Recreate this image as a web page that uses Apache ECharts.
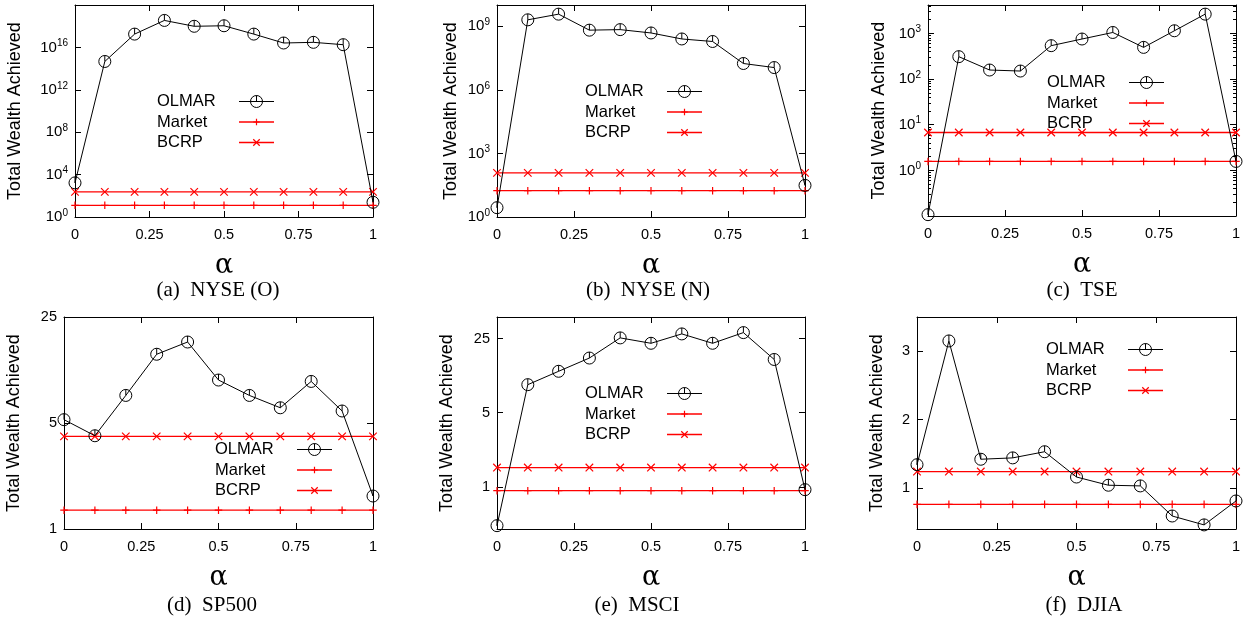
<!DOCTYPE html>
<html>
<head>
<meta charset="UTF-8">
<script src="https://cdn.jsdelivr.net/npm/echarts@6/dist/echarts.min.js"></script>
<title>Total wealth vs alpha</title>
<style>
  html, body { margin: 0; padding: 0; background: #fff; }
  #main { width: 1255px; height: 619px; }
</style>
</head>
<body>
<div id="main"></div>
<script type="text/javascript">
// x values shared by every panel
var alphas = [0, 0.1, 0.2, 0.3, 0.4, 0.5, 0.6, 0.7, 0.8, 0.9, 1];

// (a) NYSE (O)
var olmarA  = [1660, 4.7e14, 1.8e17, 3.5e18, 9.8e17, 1.1e18, 1.8e17, 2.6e16, 3.0e16, 1.8e16, 24.5];
var marketA = [12.7, 12.7, 12.7, 12.7, 12.7, 12.7, 12.7, 12.7, 12.7, 12.7, 12.7];
var bcrpA   = [234, 234, 234, 234, 234, 234, 234, 234, 234, 234, 234];
var ticksA  = [1, 1e4, 1e8, 1e12, 1e16];

// (b) NYSE (N)
var olmarB  = [2.75, 2.0e9, 3.7e9, 6.5e8, 6.9e8, 4.8e8, 2.5e8, 1.9e8, 1.74e7, 1.12e7, 31];
var marketB = [17.5, 17.5, 17.5, 17.5, 17.5, 17.5, 17.5, 17.5, 17.5, 17.5, 17.5];
var bcrpB   = [120, 120, 120, 120, 120, 120, 120, 120, 120, 120, 120];
var ticksB  = [1, 1e3, 1e6, 1e9];

// (c) TSE
var olmarC  = [0.107, 310, 158, 150, 540, 755, 1050, 495, 1145, 2650, 1.57];
var marketC = [1.57, 1.57, 1.57, 1.57, 1.57, 1.57, 1.57, 1.57, 1.57, 1.57, 1.57];
var bcrpC   = [6.76, 6.76, 6.76, 6.76, 6.76, 6.76, 6.76, 6.76, 6.76, 6.76, 6.76];
var ticksC  = [1, 10, 100, 1000];

// (d) SP500
var olmarD  = [5.26, 4.12, 7.6, 14.2, 17.1, 9.6, 7.6, 6.3, 9.4, 6.0, 1.65];
var marketD = [1.33, 1.33, 1.33, 1.33, 1.33, 1.33, 1.33, 1.33, 1.33, 1.33, 1.33];
var bcrpD   = [4.08, 4.08, 4.08, 4.08, 4.08, 4.08, 4.08, 4.08, 4.08, 4.08, 4.08];
var ticksD  = [1, 5, 25];

// (e) MSCI
var olmarE  = [0.43, 9.2, 12.3, 16.4, 25.4, 22.6, 27.7, 22.6, 28.5, 15.9, 0.94];
var marketE = [0.92, 0.92, 0.92, 0.92, 0.92, 0.92, 0.92, 0.92, 0.92, 0.92, 0.92];
var bcrpE   = [1.52, 1.52, 1.52, 1.52, 1.52, 1.52, 1.52, 1.52, 1.52, 1.52, 1.52];
var ticksE  = [1, 5, 25];

// (f) DJIA
var olmarF  = [1.34, 3.15, 1.42, 1.44, 1.53, 1.16, 1.04, 1.03, 0.59, 0.46, 0.81];
var marketF = [0.76, 0.76, 0.76, 0.76, 0.76, 0.76, 0.76, 0.76, 0.76, 0.76, 0.76];
var bcrpF   = [1.24, 1.24, 1.24, 1.24, 1.24, 1.24, 1.24, 1.24, 1.24, 1.24, 1.24];
var ticksF  = [1, 2, 3];

var xTicks = [0, 0.25, 0.5, 0.75, 1];

var SANS  = 'Liberation Sans, Arial, Helvetica, sans-serif';
var SERIF = 'Liberation Serif, Times New Roman, serif';
var RED   = '#ff0000';

var panels = [
  {cap: '(a)  NYSE (O)', o: olmarA, m: marketA, b: bcrpA, ticks: ticksA, type: 'log', min: 1,   max: 1e20, sup: true,
   box: [75, 5, 298, 212],   gap: 51, leg: [157, 93],   capPos: [218, 290]},
  {cap: '(b)  NYSE (N)', o: olmarB, m: marketB, b: bcrpB, ticks: ticksB, type: 'log', min: 1,   max: 1e10, sup: true,
   box: [497, 5, 308, 212],  gap: 37, leg: [585, 83],   capPos: [648, 290]},
  {cap: '(c)  TSE',      o: olmarC, m: marketC, b: bcrpC, ticks: ticksC, type: 'log', min: 0.1, max: 4200, sup: true, minor: true,
   box: [928, 5, 308, 211],  gap: 40, leg: [1047, 74],  capPos: [1082, 290]},
  {cap: '(d)  SP500',    o: olmarD, m: marketD, b: bcrpD, ticks: ticksD, type: 'log', min: 1,   max: 25,
   box: [64, 317, 309, 212], gap: 41, leg: [215, 441],  capPos: [212, 605]},
  {cap: '(e)  MSCI',     o: olmarE, m: marketE, b: bcrpE, ticks: ticksE, type: 'log', min: 0.4, max: 40,
   box: [497, 317, 308, 212], gap: 41, leg: [585, 385], capPos: [637, 605]},
  {cap: '(f)  DJIA',     o: olmarF, m: marketF, b: bcrpF, ticks: ticksF, type: 'value', min: 0.4, max: 3.5,
   box: [917, 317, 319, 212], gap: 31, leg: [1046, 341], capPos: [1084, 605]}
];

// marker paths; the lone M points pad the bounding box so the drawn mark stays small
var circleMark = 'path://M6,0A6,6,0,1,1,6,12A6,6,0,1,1,6,0ZM6,0L6,6';
var plusMark   = 'path://M-2,-2M11,11M4.5,1L4.5,8M1,4.5L8,4.5';
var crossMark  = 'path://M-2,-2M11,11M1,1L8,8M8,1L1,8';

// legend entries with their own icon colours
var legendItems = [
  {name: 'OLMAR',  itemStyle: {color: 'rgba(0,0,0,0)', borderColor: '#000', borderWidth: 1}, lineStyle: {color: '#000', width: 1}},
  {name: 'Market', itemStyle: {color: 'rgba(0,0,0,0)', borderColor: RED, borderWidth: 1.2}, lineStyle: {color: RED, width: 1.3}},
  {name: 'BCRP',   itemStyle: {color: 'rgba(0,0,0,0)', borderColor: RED, borderWidth: 1.2}, lineStyle: {color: RED, width: 1.3}}
];

function pairs(ys) {
  var out = [];
  for (var i = 0; i < alphas.length; i++) out.push([alphas[i], ys[i]]);
  return out;
}

function supLabel(v) {
  var e = Math.round(Math.log10(v));
  return '{b|10}{s|' + e + '}';
}

var lineBlack = {color: '#000', width: 1};
var tickStyle = {color: '#000', width: 1};

var grids = [], xAxes = [], yAxes = [], series = [], legends = [], graphics = [];

panels.forEach(function (p, i) {
  grids.push({left: p.box[0], top: p.box[1], width: p.box[2], height: p.box[3]});

  // bottom x axis and its mirror on top
  xAxes.push({
    type: 'value', gridIndex: i, position: 'bottom', min: 0, max: 1, interval: 0.25,
    axisLine: {show: true, onZero: false, lineStyle: lineBlack},
    axisTick: {show: true, inside: true, length: 6, lineStyle: tickStyle},
    axisLabel: {show: true, margin: 10, color: '#000', fontFamily: SANS, fontSize: 14.5,
                customValues: xTicks},
    splitLine: {show: false},
    name: 'α', nameLocation: 'middle', nameGap: 35,
    nameTextStyle: {color: '#000', fontFamily: 'DejaVu Serif, serif', fontSize: 27}
  });
  xAxes.push({
    type: 'value', gridIndex: i, position: 'top', min: 0, max: 1, interval: 0.25,
    axisLine: {show: true, onZero: false, lineStyle: lineBlack},
    axisTick: {show: true, inside: true, length: 6, lineStyle: tickStyle},
    axisLabel: {show: false}, splitLine: {show: false}
  });

  var label = {show: true, margin: 7, color: '#000', fontFamily: SANS, fontSize: 14.5,
               customValues: p.ticks};
  if (p.sup) {
    label.formatter = supLabel;
    label.rich = {
      b: {fontFamily: SANS, fontSize: 15, color: '#000', lineHeight: 18},
      s: {fontFamily: SANS, fontSize: 10, color: '#000', lineHeight: 10, padding: [0, 0, 8, 0]}
    };
  }
  var minor = {show: !!p.minor, splitNumber: 9, length: 3, lineStyle: {color: '#000', width: 1}};

  yAxes.push({
    type: p.type, gridIndex: i, position: 'left', min: p.min, max: p.max,
    axisLine: {show: true, onZero: false, lineStyle: lineBlack},
    axisTick: {show: true, inside: true, length: 6, lineStyle: tickStyle, customValues: p.ticks},
    minorTick: minor,
    axisLabel: label,
    splitLine: {show: false},
    name: 'Total Wealth Achieved', nameLocation: 'middle', nameGap: p.gap,
    nameTextStyle: {color: '#000', fontFamily: SANS, fontSize: 18}
  });
  yAxes.push({
    type: p.type, gridIndex: i, position: 'right', min: p.min, max: p.max,
    axisLine: {show: true, onZero: false, lineStyle: lineBlack},
    axisTick: {show: true, inside: true, length: 6, lineStyle: tickStyle, customValues: p.ticks},
    minorTick: minor,
    axisLabel: {show: false, customValues: p.ticks},
    splitLine: {show: false}
  });

  series.push({
    name: 'Market', type: 'line', xAxisIndex: 2 * i, yAxisIndex: 2 * i,
    data: pairs(p.m), symbol: plusMark, symbolSize: 14,
    lineStyle: {color: RED, width: 1.3},
    itemStyle: {color: 'rgba(0,0,0,0)', borderColor: RED, borderWidth: 1.2},
    animation: false, z: 2
  });
  series.push({
    name: 'BCRP', type: 'line', xAxisIndex: 2 * i, yAxisIndex: 2 * i,
    data: pairs(p.b), symbol: crossMark, symbolSize: 14,
    lineStyle: {color: RED, width: 1.3},
    itemStyle: {color: 'rgba(0,0,0,0)', borderColor: RED, borderWidth: 1.2},
    animation: false, z: 2
  });
  series.push({
    name: 'OLMAR', type: 'line', xAxisIndex: 2 * i, yAxisIndex: 2 * i,
    data: pairs(p.o), symbol: circleMark, symbolSize: 12,
    lineStyle: {color: '#000', width: 1},
    itemStyle: {color: 'rgba(0,0,0,0)', borderColor: '#000', borderWidth: 1},
    animation: false, z: 3
  });

  legends.push({
    orient: 'vertical', left: p.leg[0], top: p.leg[1], align: 'right', padding: 0,
    itemGap: 3.5, itemWidth: 35, itemHeight: 15, selectedMode: false,
    inactiveColor: RED, inactiveBorderColor: RED,
    data: legendItems,
    formatter: function (n) { return '{n|' + n + '}'; },
    textStyle: {rich: {n: {width: 77, align: 'left', fontFamily: SANS, fontSize: 16.5, color: '#000', lineHeight: 20}}},
    z: 10
  });

  graphics.push({
    type: 'text', x: p.capPos[0], y: p.capPos[1],
    style: {text: p.cap, fontFamily: SERIF, fontSize: 21, fill: '#000', align: 'center', verticalAlign: 'middle'}
  });
});

var myChart = echarts.init(document.getElementById('main'), null, {renderer: 'canvas'});
myChart.setOption({
  animation: false,
  backgroundColor: '#fff',
  grid: grids,
  xAxis: xAxes,
  yAxis: yAxes,
  legend: legends,
  graphic: graphics,
  series: series
});
</script>
</body>
</html>
